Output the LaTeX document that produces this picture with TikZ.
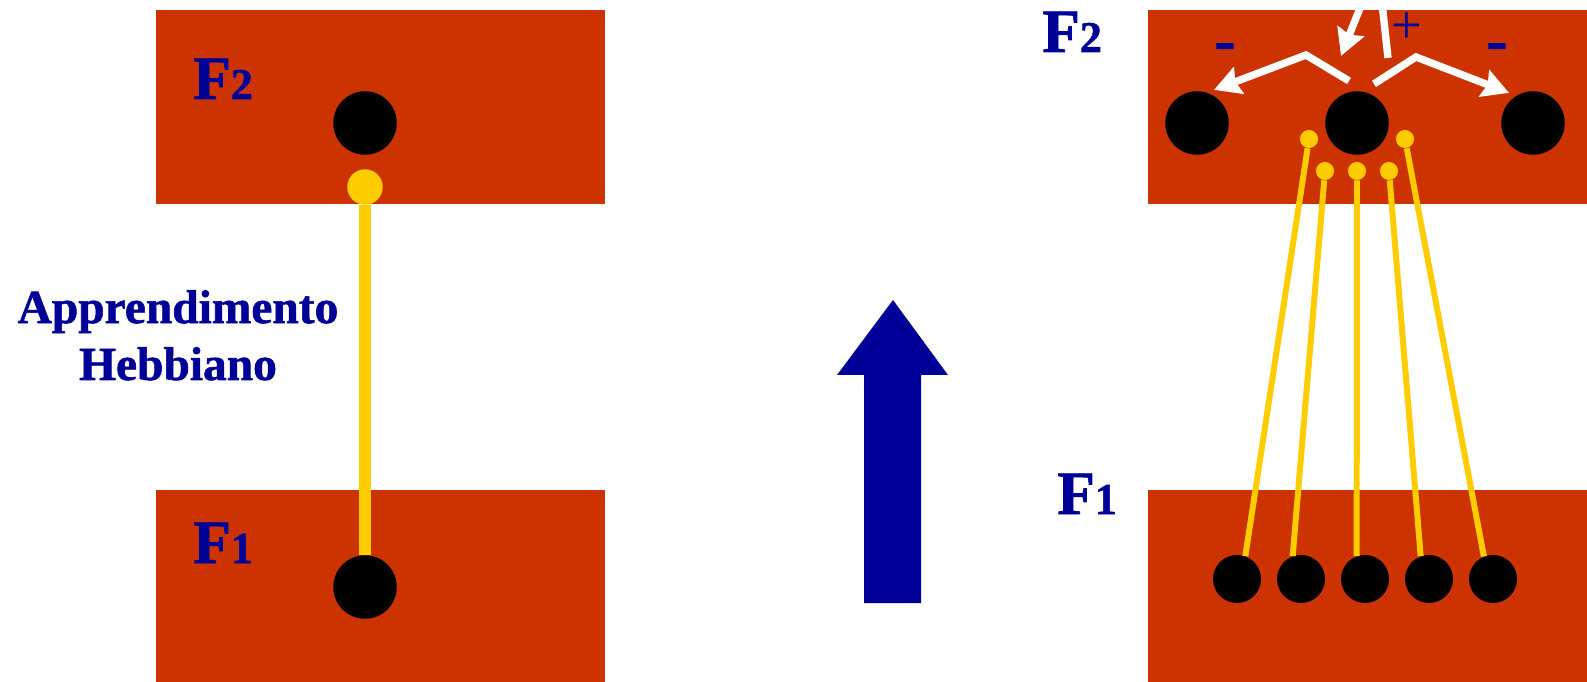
\documentclass[tikz,border=0pt]{standalone}
\usepackage{fontspec}
\setmainfont{Liberation Serif}[BoldFeatures={FakeBold=1.2}]
\usetikzlibrary{arrows.meta}
\definecolor{hred}{HTML}{CC3300}
\definecolor{hgold}{HTML}{FFCC00}
\definecolor{hnavy}{HTML}{000099}
\newcommand{\layname}[1]{{\bfseries\fontsize{35}{35}\selectfont F\fontsize{25}{25}\selectfont #1}}
\tikzset{
  layer/.style={fill=hred},
  cell/.style={circle,fill=black,inner sep=0pt,minimum size=1.27cm},
  cellsm/.style={circle,fill=black,inner sep=0pt,minimum size=0.96cm},
  syn/.style={circle,fill=hgold,inner sep=0pt,minimum size=0.71cm},
  synsm/.style={circle,fill=hgold,inner sep=0pt,minimum size=0.36cm},
  lbl/.style={text=hnavy,inner sep=0pt,anchor=base west},
  sign/.style={text=hnavy,inner sep=0pt,anchor=base},
  wire/.style={draw=hgold,line width=7.2pt},
  wiresm/.style={draw=hgold,line width=3.4pt},
  warr/.style={draw=white,line width=4.2pt,-{Stealth[length=15pt,width=16pt,inset=2pt]}},
}
\begin{document}
\begin{tikzpicture}[x=0.02cm,y=-0.02cm]
  \useasboundingbox (0,0) rectangle (1587,682);
  % left: one pair of cells
  \fill[layer] (156,10) rectangle (605,204);
  \fill[layer] (156,490) rectangle (605,682);
  \node[lbl] (f2a) at (193,99) {\layname{2}};
  \node[lbl] (f1a) at (193,563) {\layname{1}};
  \node[cell] (t0) at (365,123) {};
  \node[syn] (y0) at (365,187) {};
  \node[cell] (b0) at (365,587) {};
  \draw[wire] (y0) -- (b0);
  \node[sign,align=center,font=\bfseries\fontsize{27}{32.4}\selectfont] (hebb) at (178,380) {Apprendimento\\Hebbiano};
  % middle arrow
  \fill[hnavy] (864,603) -- (864,375) -- (837,375) -- (893,300) -- (948,375) -- (921,375) -- (921,603) -- cycle;
  % right: competition in F2
  \fill[layer] (1148,10) rectangle (1587,204);
  \fill[layer] (1148,490) rectangle (1587,682);
  \node[lbl] (f2b) at (1042,52) {\layname{2}};
  \node[lbl] (f1b) at (1057,514) {\layname{1}};
  \node[cell] (m1) at (1197,123) {};
  \node[cell] (m2) at (1357,123) {};
  \node[cell] (m3) at (1533,123) {};
  \foreach \i/\x/\y in {1/1309/139,2/1325/171,3/1357/171,4/1389/171,5/1405/139}
    \node[synsm] (s\i) at (\x,\y) {};
  \foreach \i/\x in {1/1237,2/1301,3/1365,4/1429,5/1493}
    \node[cellsm] (b\i) at (\x,579) {};
  \foreach \i/\a in {1/70,2/110,3/110,4/110,5/112}
    \draw[wiresm] (s\i) -- (b\i.\a);
  \coordinate (kl) at (1306,55);
  \coordinate (kr) at (1416,57);
  \coordinate (lp1) at (1382,3);
  \coordinate (lp2) at (1362,3);
  \draw[warr] ([shift={(-8,-10)}]m2.north) -- (kl) -- ([shift={(17,-1)}]m1.north);
  \draw[warr] ([shift={(17,-7)}]m2.north) -- (kr) -- ([shift={(-24,2)}]m3.north);
  \draw[warr] ([shift={(31,-33)}]m2.north) -- (lp1) -- (lp2) -- ([shift={(-16,-35)}]m2.north);
  \node[sign,font=\bfseries\fontsize{36}{36}\selectfont] (mn1) at (1225,61) {-};
  \node[sign,font=\bfseries\fontsize{36}{36}\selectfont] (mn2) at (1497,61) {-};
  \node[sign,font=\fontsize{31}{31}\selectfont] (pl) at (1407,44) {+};
\end{tikzpicture}
\end{document}
